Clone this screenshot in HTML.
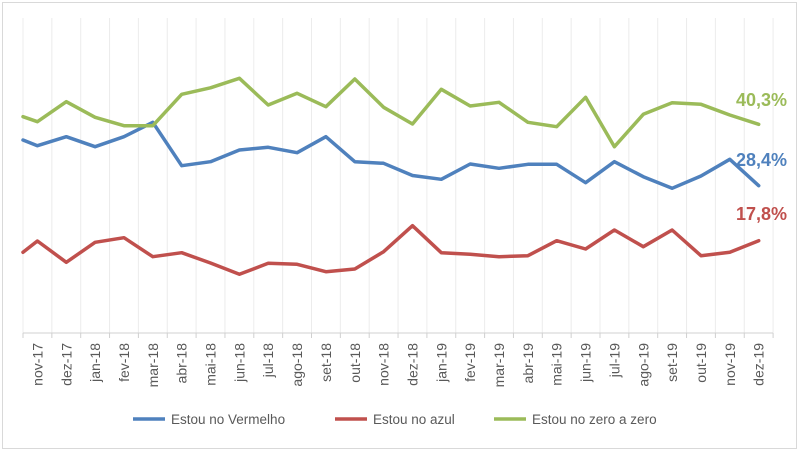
<!DOCTYPE html>
<html><head><meta charset="utf-8"><style>
body{margin:0;background:#fff}
svg{display:block;font-family:"Liberation Sans",sans-serif}
</style></head><body>
<svg width="799" height="452" viewBox="0 0 799 452">
<rect x="2.5" y="2.5" width="794" height="446" fill="#fff" stroke="#d9d9d9"/>
<g id="grid" stroke="#ececec" stroke-width="1"></g>
<line x1="23" y1="333" x2="773" y2="333" stroke="#d0d0d0"/>
<g id="ticks" stroke="#d0d0d0"></g>
<g id="labels" font-size="14" fill="#595959"></g>
<g id="series" fill="none" stroke-width="3.5" stroke-linejoin="round" stroke-linecap="round"></g>
<text x="787" y="106" font-size="18" font-weight="bold" fill="#9bbb59" text-anchor="end">40,3%</text>
<text x="787" y="166" font-size="18" font-weight="bold" fill="#4f81bd" text-anchor="end">28,4%</text>
<text x="787" y="220" font-size="18" font-weight="bold" fill="#c0504d" text-anchor="end">17,8%</text>
<g font-size="13.5" fill="#595959">
<line x1="133" y1="419" x2="165" y2="419" stroke="#4f81bd" stroke-width="3.5"/><text x="171" y="424">Estou no Vermelho</text>
<line x1="335" y1="419" x2="367" y2="419" stroke="#c0504d" stroke-width="3.5"/><text x="373" y="424">Estou no azul</text>
<line x1="494" y1="419" x2="526" y2="419" stroke="#9bbb59" stroke-width="3.5"/><text x="532" y="424">Estou no zero a zero</text>
</g>
</svg>
<script>
var ns="http://www.w3.org/2000/svg";
function el(p,t,a,txt){var e=document.createElementNS(ns,t);for(var k in a)e.setAttribute(k,a[k]);if(txt)e.textContent=txt;document.getElementById(p).appendChild(e);}
var sp=28.85,x0=23;
var labs=["nov-17","dez-17","jan-18","fev-18","mar-18","abr-18","mai-18","jun-18","jul-18","ago-18","set-18","out-18","nov-18","dez-18","jan-19","fev-19","mar-19","abr-19","mai-19","jun-19","jul-19","ago-19","set-19","out-19","nov-19","dez-19"];
for(var i=0;i<=26;i++){var x=x0+i*sp;el("grid","line",{x1:x,y1:18,x2:x,y2:333});el("ticks","line",{x1:x,y1:333,x2:x,y2:338});}
for(var i=0;i<26;i++){var x=x0+sp/2+i*sp+5;el("labels","text",{x:0,y:0,transform:"translate("+x+",343) rotate(-90)","text-anchor":"end"},labs[i]);}
var G=[116.7,121.7,101.7,117.3,125.7,125.7,94.3,87.8,78.3,105,93.3,106.7,79,107.3,124,89.3,106,102.3,122.3,126.7,97.3,146.7,114.3,102.7,104.3,115,124.3];
var B=[140,145.7,136.7,146.7,136.7,122.3,165.7,161.7,150,147.3,152.7,136.7,161.7,163.3,175.5,179.3,164,168.3,164.3,164.3,182.7,161.7,176.7,188.3,176,159.3,185.7];
var R=[252.3,241,262.3,242.3,237.7,256.7,252.7,263,274.3,263.3,264.3,271.7,269,251.7,225.7,252.7,254.3,256.7,255.7,240.7,249,230,246.7,230,255.7,252.3,240.7];
function pts(a){var s=x0+","+a[0];for(var i=1;i<a.length;i++)s+=" "+(x0+sp/2+(i-1)*sp).toFixed(1)+","+a[i];return s;}
el("series","polyline",{points:pts(R),stroke:"#c0504d"});
el("series","polyline",{points:pts(B),stroke:"#4f81bd"});
el("series","polyline",{points:pts(G),stroke:"#9bbb59"});
</script>
</body></html>
